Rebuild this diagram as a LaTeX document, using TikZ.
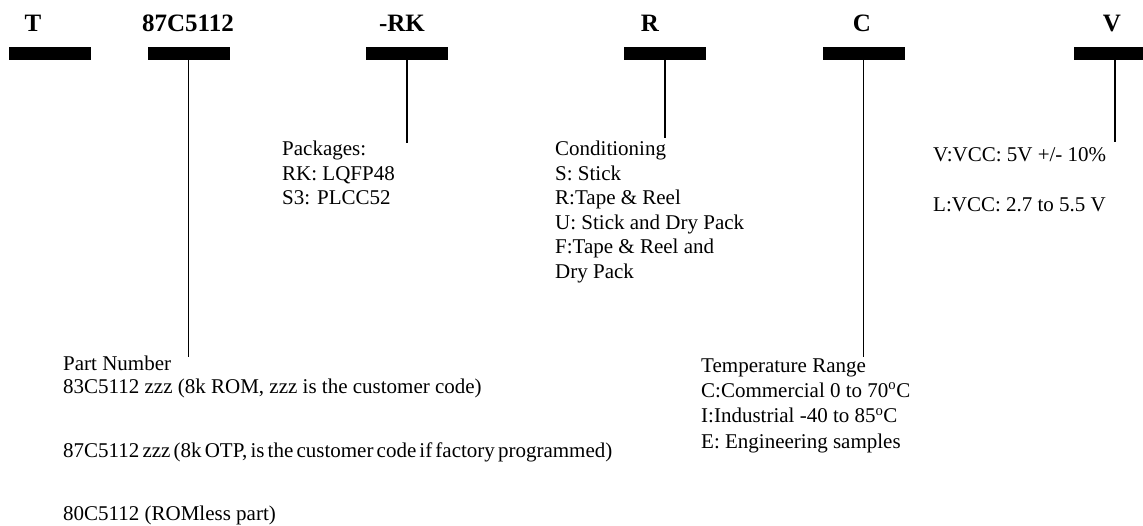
\documentclass[tikz,border=0pt]{standalone}
\usepackage{fontspec}
\setmainfont{Liberation Serif}
\usetikzlibrary{positioning}

\begin{document}
\begin{tikzpicture}[
  x=1pt, y=-1pt,
  bar/.style={fill=black, inner sep=0pt, minimum width=82pt, minimum height=13pt},
  code/.style={font=\fontsize{25}{30}\selectfont\bfseries, anchor=base, inner sep=0pt},
  note/.style={font=\fontsize{21}{24.5}\selectfont, align=left, anchor=base west, inner sep=0pt},
  stem/.style={line width=1.8pt},
]
  \useasboundingbox (0,0) rectangle (1143,526);
  \clip (0,0) rectangle (1143,526);

  % Code fields
  \node[code] (cT)    at (33,32)   {T};
  \node[code] (cPart) at (188,32)  {87C5112};
  \node[code] (cPkg)  at (402,32)  {-RK};
  \node[code] (cCond) at (650,32)  {R};
  \node[code] (cTemp) at (862,32)  {C};
  \node[code] (cVcc)  at (1112,32) {V};

  % Bars
  \foreach \n/\x in {T/50, Part/188.5, Pkg/407, Cond/665, Temp/863.5, Vcc/1115}
    \node[bar] (b\n) at (\x,53.5) {};

  % Stem ends
  \coordinate (ePart) at (bPart.south |- 0,357);
  \coordinate (ePkg)  at (bPkg.south |- 0,143);
  \coordinate (eCond) at (bCond.south |- 0,138);
  \coordinate (eTemp) at (bTemp.south |- 0,357);
  \coordinate (eVcc)  at (bVcc.south |- 0,142);

  \foreach \n in {Part,Pkg,Cond,Temp,Vcc}
    \draw[stem] (b\n.south) -- (e\n);

  % Descriptions (placed at the baseline of their last line)
  \node[note] (pkg) at (282,205) {Packages:\\RK: LQFP48\\S3: PLCC52};
  \node[note] (cond) at (555,278.5) {Conditioning\\S: Stick\\R:Tape \& Reel\\
    U: Stick and Dry Pack\\F:Tape \& Reel and\\Dry Pack};
  \node[note] (vcc) at (933,212) {V:VCC: 5V +/- 10\%\\[25.5pt]L:VCC: 2.7 to 5.5 V};
  \node[note, font=\fontsize{21}{23}\selectfont] (part) at (63,520) {Part Number\\
    83C5112 zzz (8k ROM, zzz is the customer code)\\[41pt]
    {\spaceskip=0.15em 87C5112 zzz (8k OTP, is the customer code if factory programmed)}\\[40pt]
    80C5112 (ROMless part)};
  \node[note, font=\fontsize{21}{25.3}\selectfont] (temp) at (701,448) {Temperature Range\\
    C:Commercial 0 to 70\textsuperscript{o}C\\I:Industrial -40 to 85\textsuperscript{o}C\\
    E: Engineering samples};
\end{tikzpicture}
\end{document}
